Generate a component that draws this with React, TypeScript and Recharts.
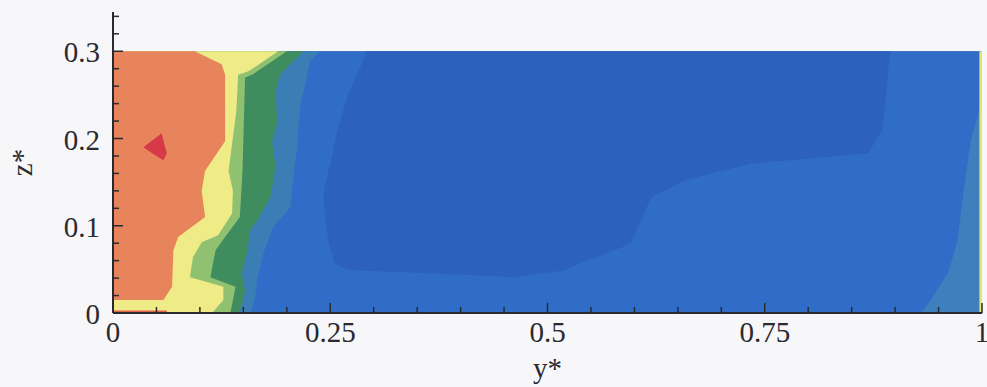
import React from 'react';
import { ComposedChart, Area, XAxis, YAxis, Label } from 'recharts';

// axis ranges and ticks
const zTop = 0.345;
const xMajor = [0, 0.25, 0.5, 0.75, 1];
const xMajorLabels = ['0', '0.25', '0.5', '0.75', '1'];
const xMinor = [0.05, 0.1, 0.15, 0.2, 0.3, 0.35, 0.4, 0.45, 0.55, 0.6, 0.65, 0.7, 0.8, 0.85, 0.9, 0.95];
const zMajor = [0, 0.1, 0.2, 0.3];
const zMajorLabels = ['0', '0.1', '0.2', '0.3'];
const zMinor = [0.02, 0.04, 0.06, 0.08, 0.12, 0.14, 0.16, 0.18, 0.22, 0.24, 0.26, 0.28, 0.32, 0.34];

// contour edges as [z*, y*]; each level is filled from the wall (y* = 0) out to its edge
const outerEdge = [[0, 1], [0.3, 1]];
const mainBlueEdge = [[0, 0.93], [0.015, 0.941], [0.046, 0.961], [0.083, 0.972], [0.14, 0.979], [0.197, 0.987], [0.243, 1], [0.3, 1]];
const tealEdge = [[0, 0.158], [0.015, 0.163], [0.038, 0.166], [0.068, 0.173], [0.098, 0.184], [0.121, 0.204], [0.152, 0.207], [0.19, 0.212], [0.235, 0.215], [0.289, 0.227], [0.3, 0.238]];
const darkGreenEdge = [[0, 0.145], [0.015, 0.15], [0.026, 0.152], [0.045, 0.148], [0.068, 0.154], [0.095, 0.158], [0.106, 0.166], [0.132, 0.181], [0.167, 0.187], [0.197, 0.183], [0.217, 0.189], [0.254, 0.187], [0.273, 0.192], [0.3, 0.219]];
const lightGreenEdge = [[0, 0.135], [0.015, 0.138], [0.03, 0.141], [0.041, 0.112], [0.072, 0.118], [0.087, 0.129], [0.11, 0.146], [0.163, 0.149], [0.27, 0.152], [0.273, 0.16], [0.3, 0.2]];
const yellowEdge = [[0, 0.114], [0.015, 0.127], [0.03, 0.127], [0.036, 0.106], [0.041, 0.0885], [0.064, 0.092], [0.081, 0.102], [0.089, 0.121], [0.114, 0.137], [0.14, 0.138], [0.163, 0.133], [0.232, 0.142], [0.273, 0.144], [0.277, 0.156], [0.3, 0.19]];
const orangeEdge = [[0.015, 0.058], [0.03, 0.068], [0.072, 0.0695], [0.087, 0.075], [0.11, 0.106], [0.14, 0.102], [0.163, 0.106], [0.197, 0.129], [0.273, 0.129], [0.285, 0.125], [0.3, 0.094]];
const wallStripEdge = [[0, 0.062], [0.003, 0.062]];

// closed islands as [z*, y* from, y* to]
const darkBlueIsland = [[0.041, 0.46, 0.46], [0.046, 0.35, 0.5], [0.049, 0.27, 0.52], [0.057, 0.255, 0.538], [0.075, 0.25, 0.585], [0.08, 0.248, 0.596], [0.132, 0.242, 0.619], [0.152, 0.245, 0.657], [0.171, 0.25, 0.734], [0.183, 0.253, 0.869], [0.209, 0.258, 0.885], [0.25, 0.27, 0.89], [0.289, 0.288, 0.893], [0.3, 0.29, 0.895]];
const redIsland = [[0.175, 0.058, 0.058], [0.183, 0.045, 0.062], [0.19, 0.035, 0.06], [0.206, 0.056, 0.056]];
const farWallRim = [[0, 0.997, 1], [0.3, 0.997, 1]];

const toRows = (pts: number[][]) => pts.map(([z, y]) => ({ z, y }));
const toRangeRows = (pts: number[][]) => pts.map(([z, lo, hi]) => ({ z, y: [lo, hi] }));

const ink = '#2a2a2e';
const serif = '"Liberation Serif", "DejaVu Serif", serif';

const XTick = (props: any) => {
  const { x, y, payload } = props;
  const i = xMajor.indexOf(payload.value);
  return (
    <g>
      <line x1={x} x2={x} y1={y} y2={y - (i >= 0 ? 10 : 6)} stroke={ink} strokeWidth={1.5} />
      {i >= 0 && (
        <text x={x} y={y + 29} textAnchor="middle" fontSize={29} fontFamily={serif} fill={ink}>
          {xMajorLabels[i]}
        </text>
      )}
    </g>
  );
};

const ZTick = (props: any) => {
  const { x, y, payload } = props;
  const i = zMajor.indexOf(payload.value);
  return (
    <g>
      <line x1={x} x2={x + (i >= 0 ? 10 : 6)} y1={y} y2={y} stroke={ink} strokeWidth={1.5} />
      {i >= 0 && (
        <text x={x - 13} y={y + 11} textAnchor="end" fontSize={29} fontFamily={serif} fill={ink}>
          {zMajorLabels[i]}
        </text>
      )}
    </g>
  );
};

const ZTitle = (props: any) => {
  const { viewBox } = props;
  const cx = viewBox.x + 32;
  const cy = viewBox.y + viewBox.height / 2;
  return (
    <text x={cx} y={cy} transform={`rotate(-90 ${cx} ${cy})`} textAnchor="middle" fontSize={29} fontFamily={serif} fill={ink}>
      z*
    </text>
  );
};

// painted back to front: outer levels first, the wall-side levels on top
const bands: { data: any[]; fill: string }[] = [
  { data: toRows(outerEdge), fill: '#3d80bd' },
  { data: toRows(mainBlueEdge), fill: '#306dc8' },
  { data: toRangeRows(darkBlueIsland), fill: '#2c62bd' },
  { data: toRows(tealEdge), fill: '#3b7db5' },
  { data: toRows(darkGreenEdge), fill: '#3f8c5e' },
  { data: toRows(lightGreenEdge), fill: '#90c171' },
  { data: toRows(yellowEdge), fill: '#efeb86' },
  { data: toRows(orangeEdge), fill: '#e8845c' },
  { data: toRows(wallStripEdge), fill: '#e0604c' },
  { data: toRangeRows(redIsland), fill: '#d63a48' },
  { data: toRangeRows(farWallRim), fill: '#e6e66e' },
];

export default function App() {
  return (
    <div style={{ position: 'fixed', left: 0, top: 0, width: 987, height: 387, background: '#f7f7f9' }}>
      <ComposedChart width={987} height={387} layout="vertical" margin={{ top: 12, right: 5, bottom: 0, left: 0 }}>
        {bands.map((b, i) => (
          <Area
            key={i}
            data={b.data}
            dataKey="y"
            type="linear"
            stroke="none"
            fill={b.fill}
            fillOpacity={1}
            dot={false}
            activeDot={false}
            isAnimationActive={false}
          />
        ))}
        <XAxis
          type="number"
          domain={[0, 1]}
          allowDataOverflow
          ticks={[...xMajor, ...xMinor].sort((a, b) => a - b)}
          interval={0}
          tick={<XTick />}
          tickLine={false}
          tickSize={0}
          tickMargin={0}
          height={74}
          axisLine={{ stroke: ink, strokeWidth: 2 }}
        >
          <Label value="y*" position="insideBottom" offset={9} fontSize={29} fontFamily={serif} fill={ink} />
        </XAxis>
        <YAxis
          type="number"
          dataKey="z"
          domain={[0, zTop]}
          reversed
          allowDataOverflow
          ticks={[...zMajor, ...zMinor].sort((a, b) => a - b)}
          interval={0}
          tick={<ZTick />}
          tickLine={false}
          tickSize={0}
          tickMargin={0}
          width={113}
          axisLine={{ stroke: ink, strokeWidth: 2 }}
        >
          <Label content={<ZTitle />} />
        </YAxis>
      </ComposedChart>
    </div>
  );
}
